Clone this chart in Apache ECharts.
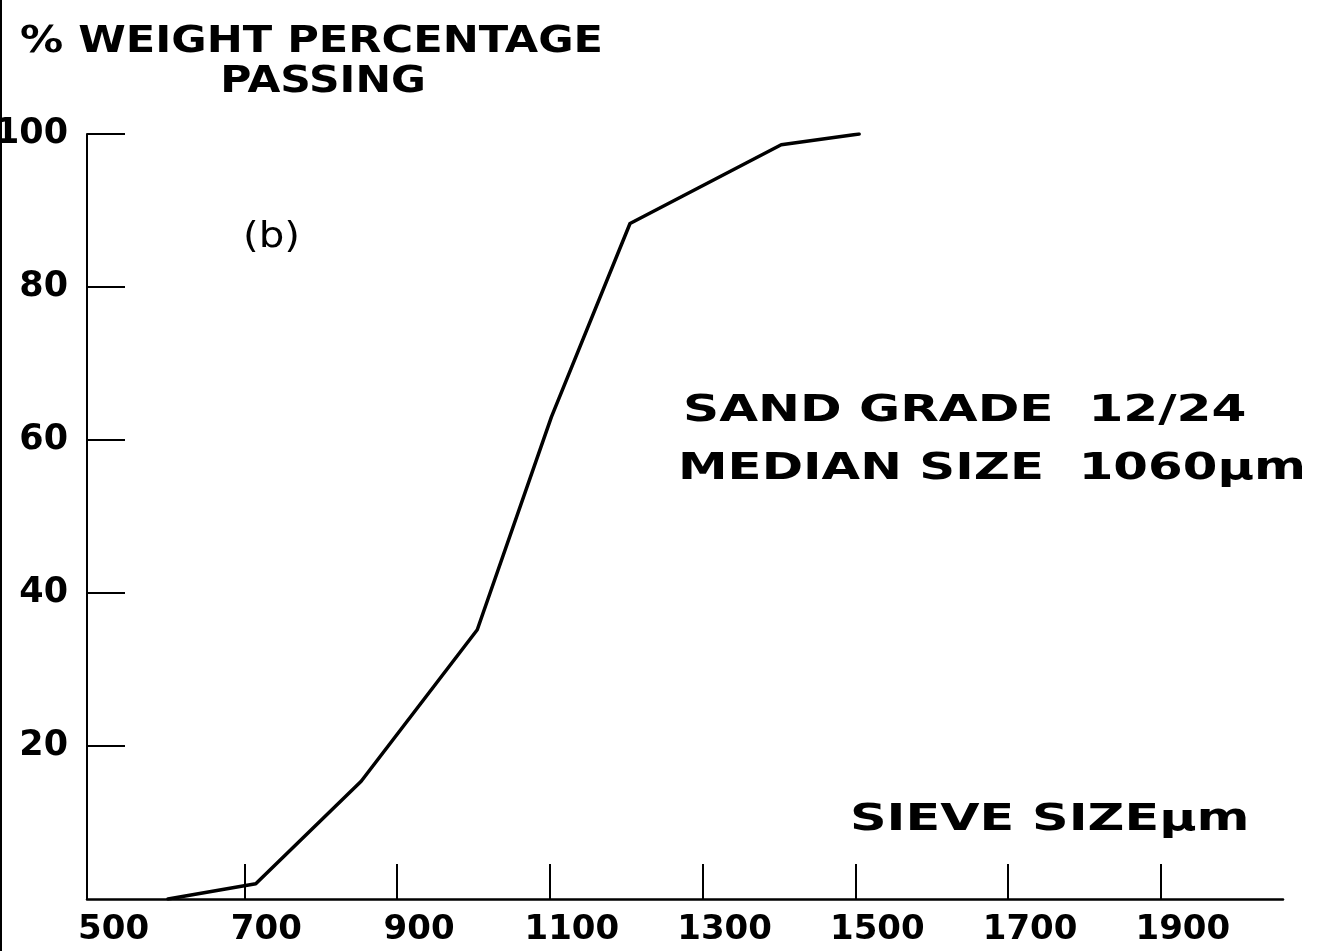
<!DOCTYPE html>
<html>
<head>
<meta charset="utf-8">
<script src="https://cdn.jsdelivr.net/npm/echarts@6/dist/echarts.min.js"></script>
<style>
  html, body { margin: 0; padding: 0; background: #fff; }
  #chart { width: 1329px; height: 951px; }
</style>
</head>
<body>
<div id="chart"></div>
<script>
// Sieve analysis, sand grade 12/24: cumulative % by weight passing each sieve
const sieveSizes = [600, 715, 853, 1005, 1102, 1205, 1403, 1505];
const percentPassing = [0, 2, 15.4, 35.2, 63, 88.3, 98.6, 100];

const xTickValues = [700, 900, 1100, 1300, 1500, 1700, 1900];
const xLabelValues = [500, 700, 900, 1100, 1300, 1500, 1700, 1900];

const titleLines = ['% WEIGHT PERCENTAGE', 'PASSING'];
const panelTag = '(b)';
const infoLines = ['SAND GRADE  12/24', 'MEDIAN SIZE  1060\u03bcm'];
const xAxisName = 'SIEVE SIZE\u03bcm';

const FONT = '"DejaVu Sans", sans-serif';
const INK = '#000';

const chart = echarts.init(document.getElementById('chart'), null, { renderer: 'canvas' });

function label(text, x, y, size, sx, align, weight) {
  return {
    type: 'text',
    x: x, y: y,
    scaleX: sx,
    style: {
      text: text,
      x: 0, y: 0,
      fill: INK,
      font: (weight || 'bold') + ' ' + size + 'px ' + FONT,
      textAlign: align || 'left',
      textVerticalAlign: 'middle'
    }
  };
}

chart.setOption({
  backgroundColor: '#fff',
  animation: false,
  grid: {
    left: 87, right: 46, top: 134, bottom: 52,
    outerBoundsMode: 'none'
  },
  xAxis: {
    type: 'value',
    min: 494,
    max: 2060,
    axisLine: { show: true, onZero: false, lineStyle: { color: INK, width: 2.5 } },
    axisTick: {
      show: true, inside: true, length: 35,
      customValues: xTickValues,
      lineStyle: { color: INK, width: 2 }
    },
    axisLabel: {
      show: true,
      customValues: xLabelValues,
      formatter: v => String(v),
      color: INK,
      fontFamily: FONT,
      fontWeight: 'bold',
      fontSize: 34,
      margin: 14,
      padding: [0, 0, 0, 44]
    },
    splitLine: { show: false }
  },
  yAxis: {
    type: 'value',
    min: 0,
    max: 100,
    interval: 20,
    axisLine: { show: true, lineStyle: { color: INK, width: 2 } },
    axisTick: {
      show: true, inside: true, length: 38,
      lineStyle: { color: INK, width: 2 }
    },
    axisLabel: {
      show: true,
      color: INK,
      fontFamily: FONT,
      fontWeight: 'bold',
      fontSize: 35,
      margin: 19,
      showMinLabel: false
    },
    splitLine: { show: false }
  },
  series: [{
    type: 'line',
    data: sieveSizes.map((s, i) => [s, percentPassing[i]]),
    symbol: 'none',
    lineStyle: { color: INK, width: 3.5, join: 'round', cap: 'round' },
    silent: true
  }],
  graphic: [
    // scanned page edge
    { type: 'line', shape: { x1: 1, y1: 0, x2: 1, y2: 951 }, style: { stroke: INK, lineWidth: 2 } },
    label(titleLines[0], 20, 42, 38, 1.135, 'left'),
    label(titleLines[1], 323, 82, 38, 1.118, 'center'),
    label(panelTag, 243, 238, 36, 1.12, 'left', 'normal'),
    label(infoLines[0], 683, 411, 38, 1.32, 'left'),
    label(infoLines[1], 678, 469, 38, 1.312, 'left'),
    label(xAxisName, 850, 820, 38, 1.338, 'left')
  ]
});
</script>
</body>
</html>
